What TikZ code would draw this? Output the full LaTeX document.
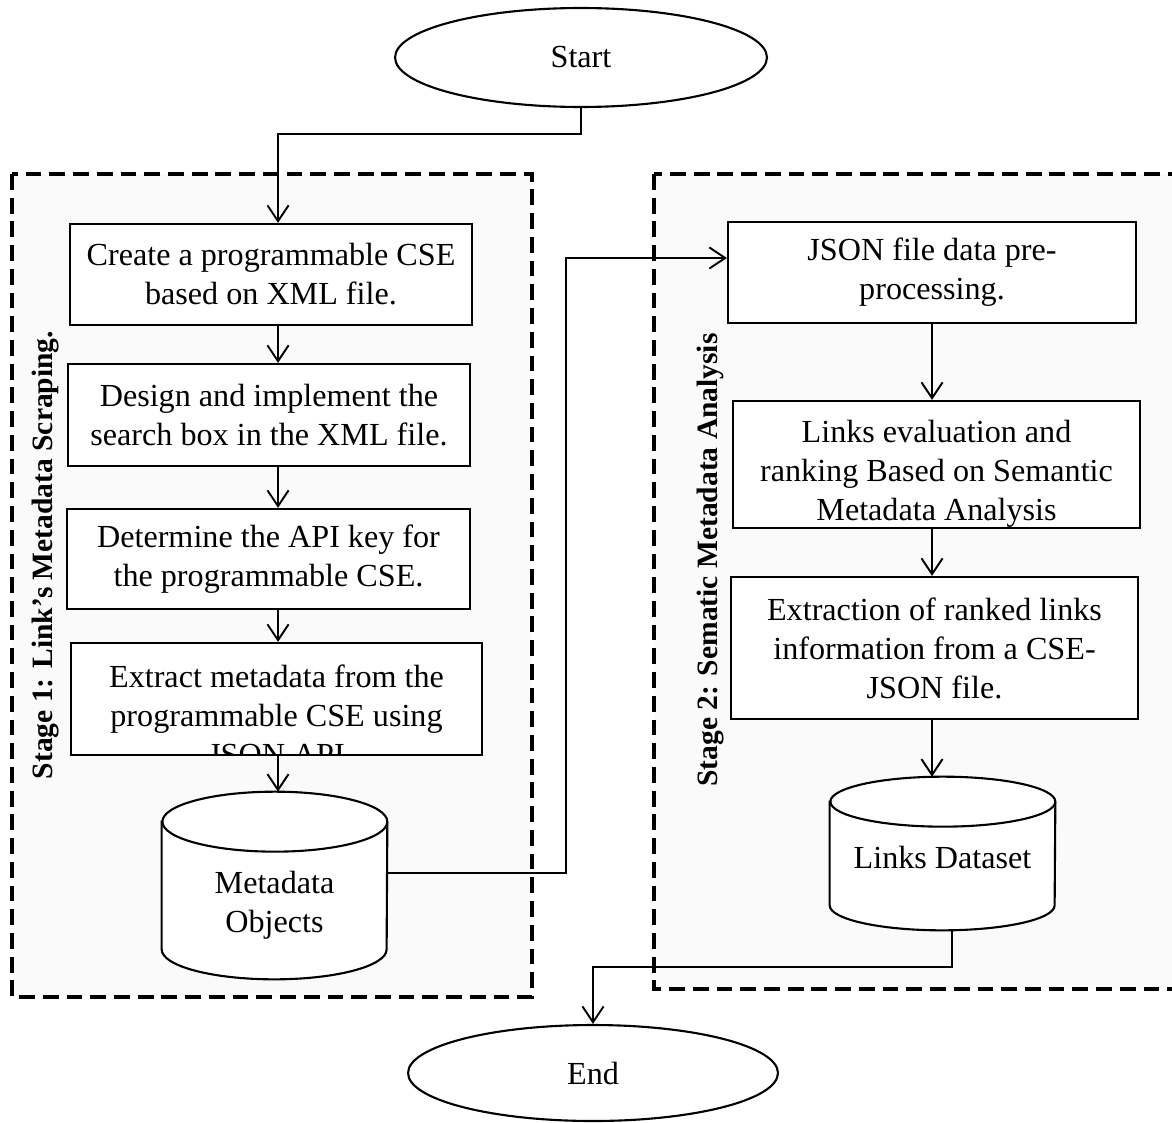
\documentclass[tikz,border=0pt]{standalone}
\usepackage{fontspec}
\setmainfont{Liberation Serif}
\usetikzlibrary{arrows.meta,shapes.geometric}

% outline of a database drum around a (not drawn) node: #1 node, #2 cap radius
\newcommand{\drawdb}[2]{%
  \draw[line width=1.2pt,fill=white] ([yshift=-#2]#1.north west) -- ([yshift=#2]#1.south west)
    arc[start angle=180,end angle=360,x radius=2.25cm,y radius=#2]
    -- ([yshift=-#2]#1.north east)
    arc[start angle=0,end angle=180,x radius=2.25cm,y radius=#2] -- cycle;
  \draw[line width=1.2pt] ([yshift=-#2]#1.north east)
    arc[start angle=0,end angle=-180,x radius=2.25cm,y radius=#2];}

\begin{document}
\begin{tikzpicture}[x=0.02cm,y=-0.02cm,
    font=\fontsize{18.3}{22.2}\selectfont,
    stepbox/.style={draw,line width=1.3pt,fill=white,align=center,inner sep=0pt},
    term/.style={ellipse,draw,line width=1.2pt,fill=white,inner sep=0pt},
    dbase/.style={rectangle,inner sep=0pt,minimum width=4.5cm},
    stage/.style={draw,line width=2pt,dash pattern=on 9pt off 4.5pt,fill=black!2},
    stagelabel/.style={rotate=90,font=\fontsize{16.8}{20}\selectfont\bfseries},
    arr/.style={line width=1.1pt,-{Straight Barb[length=9pt,width=12pt]}}]

\useasboundingbox (0,0) rectangle (1172,1122);

% dashed stage frames
\draw[stage] (12,174) rectangle (532,997);
\draw[stage] (654,174) rectangle (1195,989);

\node[term,minimum width=7.44cm,minimum height=1.98cm] (start) at (581,57.5) {Start};
\node[term,minimum width=7.4cm,minimum height=1.92cm] (end) at (593,1073) {End};

% stage 1
\node[stagelabel] (s1) at (46,555) {Stage 1: Link’s Metadata Scraping.};
\node[stepbox,minimum width=8.04cm,minimum height=2.02cm] (b1) at (271,274.5)
    {Create a programmable CSE\\based on XML file.};
\node[stepbox,minimum width=8.04cm,minimum height=2.04cm] (b2) at (269,415)
    {Design and implement the\\search box in the XML file.};
\node[stepbox,minimum width=8.06cm,minimum height=2cm] (b3) at (268.5,559)
    {Determine the API key for\\the programmable CSE.};
\node[stepbox,minimum width=8.22cm,minimum height=2.24cm,              % text runs out of the box
    path picture={\node[anchor=north,align=center,inner sep=0pt]
        at ([yshift=-0.3cm]path picture bounding box.north)
        {Extract metadata from the\\programmable CSE using\\JSON API};}] (b4) at (276.5,699) {};
\node[dbase,minimum height=3.74cm] (cyl1) at (274.5,885.5) {};
\drawdb{cyl1}{0.6cm}
\node[align=center] (cyl1t) at ([yshift=-0.4cm]cyl1.center) {Metadata\\Objects};

% stage 2
\node[stagelabel] (s2) at (711,560) {Stage 2: Sematic Metadata Analysis};
\node[stepbox,minimum width=8.16cm,minimum height=2.02cm] (bR1) at (932,272.5)
    {JSON file data pre-\\processing.};
\node[stepbox,minimum width=8.14cm,minimum height=2.54cm,              % last line cut off
    path picture={\node[anchor=north,align=center,inner sep=0pt]
        at ([yshift=-0.17cm]path picture bounding box.north)
        {Links evaluation and\\ranking Based on Semantic\\Metadata Analysis};}] (bR2) at (936.5,464.5) {};
\node[stepbox,minimum width=8.14cm,minimum height=2.84cm] (bR3) at (934.5,648)
    {Extraction of ranked links\\information from a CSE-\\JSON file.};
\node[dbase,minimum height=3.06cm] (cyl2) at (942.5,853.5) {};
\drawdb{cyl2}{0.5cm}
\node (cyl2t) at ([yshift=-0.08cm]cyl2.center) {Links Dataset};

% connectors
\coordinate (lc) at (278,0);
\coordinate (rc) at (932,0);
\coordinate (bend) at (566,0);
\coordinate (pin) at ([yshift=0.29cm]bR1.west);
\draw[arr] (start.south) -- ++(0,26) -| (b1.north -| lc);
\draw[arr] (b1.south -| lc) -- (b2.north -| lc);
\draw[arr] (b2.south -| lc) -- (b3.north -| lc);
\draw[arr] (b3.south -| lc) -- (b4.north -| lc);
\draw[arr] (b4.south -| lc) -- (cyl1.north -| lc);
\draw[arr] ([yshift=0.25cm]cyl1.east) -| (bend |- pin) -- (pin);
\draw[arr] (bR1.south -| rc) -- (bR2.north -| rc);
\draw[arr] (bR2.south -| rc) -- (bR3.north -| rc);
\draw[arr] (bR3.south -| rc) -- (cyl2.north -| rc);
\draw[arr] ([xshift=0.19cm]cyl2.south) -- ++(0,37) -| (end.north);
\end{tikzpicture}
\end{document}
